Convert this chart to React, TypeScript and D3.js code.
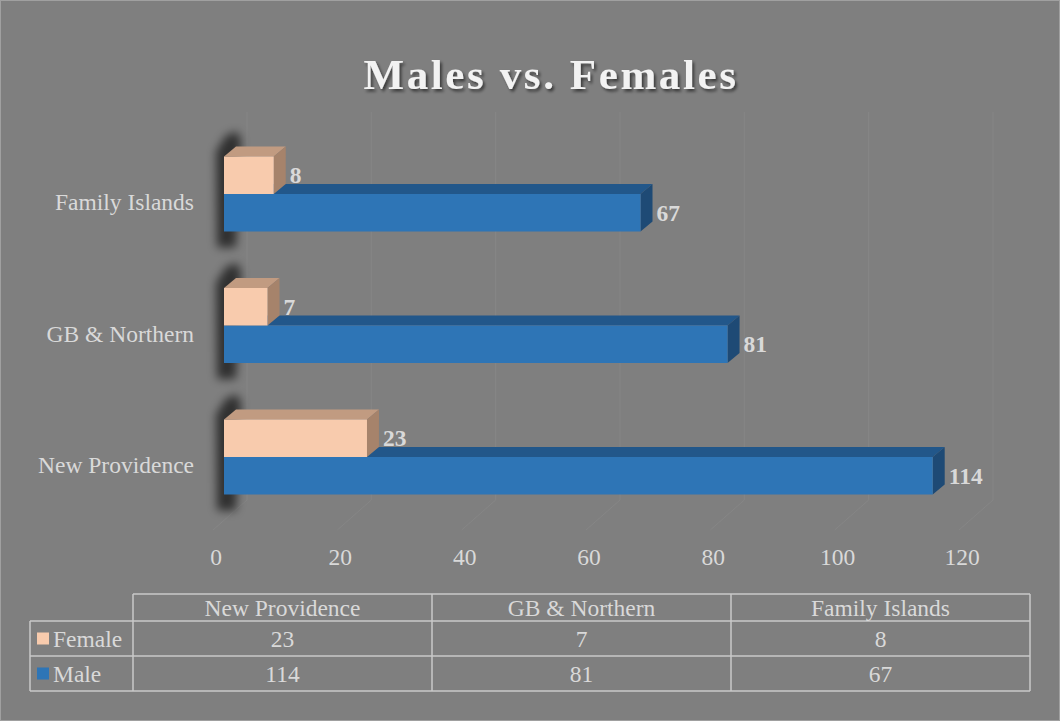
import React from "react";
import * as d3 from "d3";

const categories = ["New Providence", "GB & Northern", "Family Islands"];
const seriesNames = ["Female", "Male"];
const femaleValues = [23, 7, 8];
const maleValues = [114, 81, 67];
const xTicks = [0, 20, 40, 60, 80, 100, 120];
const title = "Males vs. Females";

const W = 1060;
const H = 721;
const FONT = "'Liberation Serif', 'Times New Roman', serif";
const BG = "#7f7f7f";
const TXT = "#d9d9d9";

const colors = {
  Female: { front: "#f8cbad", top: "#c19b81", side: "#a6836b" },
  Male: { front: "#2e75b6", top: "#22578a", side: "#1e4a75" },
};

export default function App() {
  const x = d3.scaleLinear().domain([0, 120]).range([224, 970]);
  const y = d3
    .scaleBand<string>()
    .domain([...categories].reverse())
    .range([128.25, 522.75])
    .padding(0);
  const barH = 37.5;
  const dx = 12;
  const dy = -10;
  const backDx = 23;
  const floorFrontY = 530;
  const floorBackY = 500;
  const wallTop = 112;

  const tableCols = d3.scaleBand<string>().domain(categories).range([133, 1030]);
  const rowLines = [594, 621, 656, 691];

  const bar = (
    v: number,
    yTop: number,
    c: { front: string; top: string; side: string },
    key: string
  ) => {
    const x0 = x(0);
    const x1 = x(v);
    const yB = yTop + barH;
    return (
      <g key={key}>
        <polygon
          points={`${x0},${yTop} ${x0 + dx},${yTop + dy} ${x1 + dx},${yTop + dy} ${x1},${yTop}`}
          fill={c.top}
        />
        <polygon
          points={`${x1},${yTop} ${x1 + dx},${yTop + dy} ${x1 + dx},${yB + dy} ${x1},${yB}`}
          fill={c.side}
        />
        <rect x={x0} y={yTop} width={x1 - x0} height={barH} fill={c.front} />
      </g>
    );
  };

  return (
    <div style={{ position: "absolute", left: 0, top: 0 }}>
      <svg width={W} height={H} style={{ display: "block" }}>
        <defs>
          <filter id="blur" x="-100%" y="-50%" width="300%" height="200%">
            <feGaussianBlur stdDeviation="5" />
          </filter>
          <filter id="tshadow" x="-10%" y="-30%" width="120%" height="160%">
            <feDropShadow dx="2" dy="2.5" stdDeviation="1.8" floodColor="#000" floodOpacity="0.55" />
          </filter>
        </defs>
        <rect x={0.5} y={0.5} width={W - 1} height={H - 1} fill={BG} stroke="#a0a0a0" />

        {/* Title */}
        <text
          x={551}
          y={89}
          textAnchor="middle"
          fontFamily={FONT}
          fontWeight="bold"
          fontSize={43}
          letterSpacing={2.6}
          fill="#f2f2f2"
          filter="url(#tshadow)"
        >
          {title}
        </text>

        {/* back wall gridlines and floor lines */}
        {xTicks.map((t) => (
          <g key={"g" + t} stroke="#868686" strokeWidth={1} fill="none">
            <line x1={x(t) + backDx} x2={x(t) + backDx} y1={wallTop} y2={floorBackY} />
            <line x1={x(t) - 11} y1={floorFrontY} x2={x(t) + backDx} y2={floorBackY} />
          </g>
        ))}

        {/* shadows */}
        {categories.map((cat) => {
          const cy = (y(cat) as number) + y.bandwidth() / 2;
          const top = cy - barH - 25;
          const bot = cy + barH + 16;
          return (
            <polygon
              key={"s" + cat}
              points={`${217},${bot} ${236},${bot} ${241},${top + 8} ${237},${top} ${226},${top + 4} ${216},${top + 20}`}
              fill="#000"
              opacity={0.62}
              filter="url(#blur)"
            />
          );
        })}

        {/* bars */}
        {categories.map((cat, i) => {
          const cy = (y(cat) as number) + y.bandwidth() / 2;
          return (
            <g key={"b" + cat}>
              {bar(maleValues[i], cy, colors.Male, "m")}
              {bar(femaleValues[i], cy - barH, colors.Female, "f")}
              <text
                x={x(femaleValues[i]) + dx + 4}
                y={cy - barH / 2}
                dominantBaseline="central"
                fontFamily={FONT}
                fontWeight="bold"
                fontSize={23.5}
                fill={TXT}
              >
                {femaleValues[i]}
              </text>
              <text
                x={x(maleValues[i]) + dx + 4}
                y={cy + barH / 2}
                dominantBaseline="central"
                fontFamily={FONT}
                fontWeight="bold"
                fontSize={23.5}
                fill={TXT}
              >
                {maleValues[i]}
              </text>
              <text
                x={194}
                y={cy + 8}
                textAnchor="end"
                dominantBaseline="central"
                fontFamily={FONT}
                fontSize={23.5}
                fill={TXT}
              >
                {cat}
              </text>
            </g>
          );
        })}

        {/* x tick labels */}
        {xTicks.map((t) => (
          <text
            key={"t" + t}
            x={x(t) - 8}
            y={557}
            textAnchor="middle"
            dominantBaseline="central"
            fontFamily={FONT}
            fontSize={23.5}
            fill={TXT}
          >
            {t}
          </text>
        ))}

        {/* data table */}
        <g stroke="#c8c8c8" strokeWidth={1.5} fill="none">
          <line x1={133} x2={1030} y1={rowLines[0]} y2={rowLines[0]} />
          {rowLines.slice(1).map((ly) => (
            <line key={"rl" + ly} x1={30} x2={1030} y1={ly} y2={ly} />
          ))}
          <line x1={30} x2={30} y1={rowLines[1]} y2={rowLines[3]} />
          {categories.map((c) => (
            <line
              key={"cl" + c}
              x1={tableCols(c) as number}
              x2={tableCols(c) as number}
              y1={rowLines[0]}
              y2={rowLines[3]}
            />
          ))}
          <line x1={1030} x2={1030} y1={rowLines[0]} y2={rowLines[3]} />
        </g>
        {categories.map((c, i) => {
          const cx = (tableCols(c) as number) + tableCols.bandwidth() / 2;
          return (
            <g key={"tc" + c} fontFamily={FONT} fontSize={23.5} fill={TXT} textAnchor="middle">
              <text x={cx} y={(rowLines[0] + rowLines[1]) / 2} dominantBaseline="central">
                {c}
              </text>
              <text x={cx} y={(rowLines[1] + rowLines[2]) / 2} dominantBaseline="central">
                {femaleValues[i]}
              </text>
              <text x={cx} y={(rowLines[2] + rowLines[3]) / 2} dominantBaseline="central">
                {maleValues[i]}
              </text>
            </g>
          );
        })}
        {seriesNames.map((s, i) => {
          const cy = (rowLines[i + 1] + rowLines[i + 2]) / 2;
          return (
            <g key={"lg" + s}>
              <rect x={37} y={cy - 6} width={12} height={12} fill={colors[s as "Female" | "Male"].front} />
              <text
                x={53}
                y={cy}
                dominantBaseline="central"
                fontFamily={FONT}
                fontSize={23.5}
                fill={TXT}
              >
                {s}
              </text>
            </g>
          );
        })}
      </svg>
    </div>
  );
}
